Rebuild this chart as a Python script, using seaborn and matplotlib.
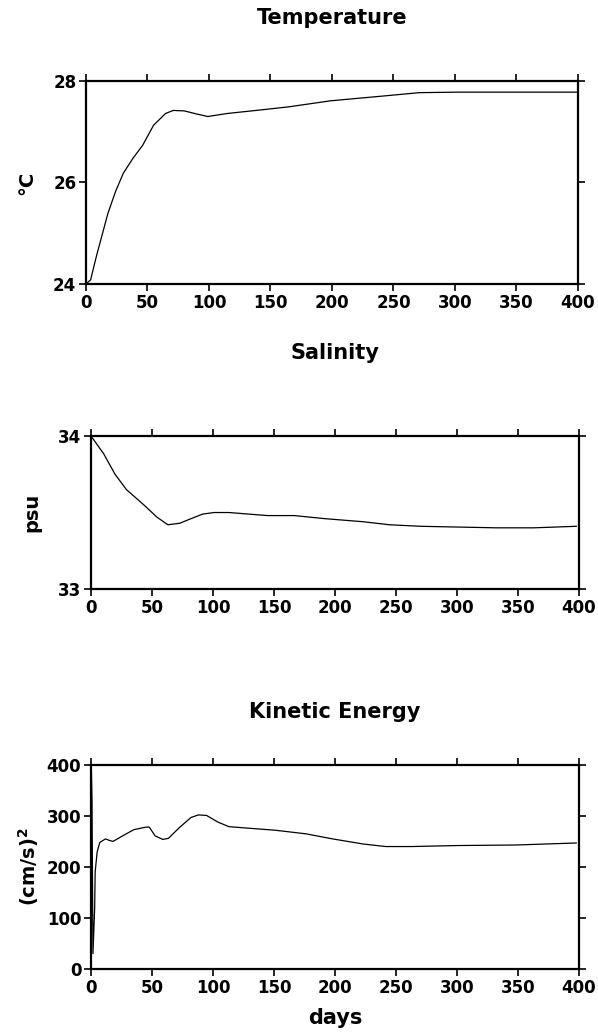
import numpy as np
import pandas as pd
import seaborn as sns
import matplotlib
matplotlib.use("Agg")
import matplotlib.pyplot as plt

# values
temp_days = [0, 3.75, 8.4, 17.8, 24, 30.3, 38, 46, 55, 64.7, 71, 80, 90, 99, 115,
             146, 164.7, 199, 240, 271, 302, 349, 399]
temp_vals = [24.0, 24.08, 24.54, 25.39, 25.82, 26.18, 26.47, 26.73, 27.13, 27.36,
             27.42, 27.41, 27.35, 27.30, 27.36, 27.44, 27.49, 27.61, 27.70, 27.77,
             27.78, 27.78, 27.78]

sal_days = [0, 0.9, 10.3, 19.7, 29, 44.7, 54, 63, 72.8, 82, 91.6, 101, 113, 144.7,
            166.6, 191.6, 222.8, 244.7, 270, 332, 363, 398]
sal_vals = [34.0, 33.99, 33.885, 33.75, 33.65, 33.54, 33.47, 33.42, 33.43, 33.46,
            33.49, 33.50, 33.50, 33.48, 33.48, 33.46, 33.44, 33.42, 33.41, 33.40,
            33.40, 33.41]

ke_days = [0, 0.3, 0.8, 1.6, 3.0, 3.4, 5, 7.2, 11.9, 15, 18, 26, 35, 44.7, 47.8,
           52.5, 58.8, 63.4, 72.8, 82, 88, 94.7, 104, 113, 129, 151, 176, 198,
           223, 241.6, 263, 301, 348, 398]
ke_vals = [0, 390, 330, 30, 120, 190, 229, 248, 255, 252, 250, 261, 273, 278, 278,
           261, 254, 256, 278, 297, 302, 301, 288, 279, 276, 272, 265, 255,
           245, 240, 240, 242, 243, 247]

x_ticks = [0, 50, 100, 150, 200, 250, 300, 350, 400]

sns.set_style("ticks")
plt.rcParams['font.family'] = ['DejaVu Sans']
plt.rcParams['font.weight'] = 'bold'
plt.rcParams['axes.labelweight'] = 'bold'
for k in ['text.color', 'axes.labelcolor', 'xtick.color', 'ytick.color', 'axes.edgecolor']:
    plt.rcParams[k] = 'black'

fig = plt.figure(figsize=(5.98, 10.33), dpi=100)

panels = [
    # days, values, ylim, yticks, ylabel, title, rect, label x
    (temp_days, temp_vals, (24, 28), [24, 26, 28], '°C', 'Temperature',
     [0.1438, 0.7251, 0.8227, 0.1965], -0.12),
    (sal_days, sal_vals, (33, 34), [33, 34], 'psu', 'Salinity',
     [0.1522, 0.4298, 0.8160, 0.1481], -0.121),
    (ke_days, ke_vals, (0, 400), [0, 100, 200, 300, 400], '(cm/s)$^2$', 'Kinetic Energy',
     [0.1522, 0.0620, 0.8160, 0.1975], -0.129),
]
title_y = [18, 353, 712]

for (d, v, yl, yt, ylab, title, rect, lx), ty in zip(panels, title_y):
    ax = fig.add_axes(rect)
    df = pd.DataFrame({'day': d, 'val': v})
    sns.lineplot(data=df, x='day', y='val', ax=ax, color='black', linewidth=0.9)
    ax.set_xlim(0, 400)
    ax.set_ylim(*yl)
    ax.set_xticks(x_ticks)
    ax.set_yticks(yt)
    ax.tick_params(direction='out', length=5, width=1.2, labelsize=12,
                   top=True, right=True, pad=2)
    for s in ax.spines.values():
        s.set_linewidth(1.6)
    ax.set_xlabel('')
    ax.set_ylabel(ylab, fontsize=14, fontweight='bold', va='center')
    ax.yaxis.set_label_coords(lx, 0.5)
    fig.text(rect[0] + rect[2] / 2, 1 - ty / 1033, title, ha='center', va='center',
             fontsize=15, fontweight='bold')

fig.text(0.1522 + 0.816 / 2, 1 - 1018 / 1033, 'days', ha='center', va='center',
         fontsize=15, fontweight='bold')

fig.savefig('out.png', dpi=100)
